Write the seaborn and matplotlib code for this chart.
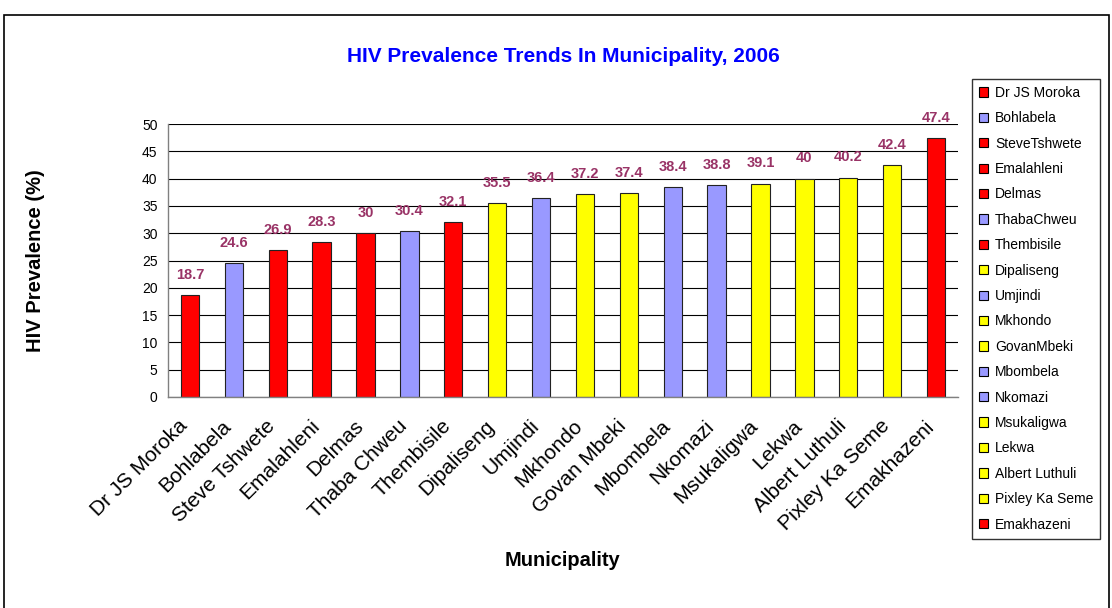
import matplotlib
matplotlib.use('Agg')
import matplotlib.pyplot as plt
import matplotlib.transforms as mtransforms
import seaborn as sns
from matplotlib.patches import Patch, Rectangle

# data
municipalities = ['Dr JS Moroka', 'Bohlabela', 'Steve Tshwete', 'Emalahleni', 'Delmas',
                  'Thaba Chweu', 'Thembisile', 'Dipaliseng', 'Umjindi', 'Mkhondo',
                  'Govan Mbeki', 'Mbombela', 'Nkomazi', 'Msukaligwa', 'Lekwa',
                  'Albert Luthuli', 'Pixley Ka Seme', 'Emakhazeni']
prevalence = [18.7, 24.6, 26.9, 28.3, 30, 30.4, 32.1, 35.5, 36.4, 37.2,
              37.4, 38.4, 38.8, 39.1, 40, 40.2, 42.4, 47.4]
legend_names = ['Dr JS Moroka', 'Bohlabela', 'SteveTshwete', 'Emalahleni', 'Delmas',
                'ThabaChweu', 'Thembisile', 'Dipaliseng', 'Umjindi', 'Mkhondo',
                'GovanMbeki', 'Mbombela', 'Nkomazi', 'Msukaligwa', 'Lekwa',
                'Albert Luthuli', 'Pixley Ka Seme', 'Emakhazeni']
bar_group = ['r', 'b', 'r', 'r', 'r', 'b', 'r', 'y', 'b', 'y',
             'y', 'b', 'b', 'y', 'y', 'y', 'y', 'r']

group_colors = {'r': '#FF0000', 'b': '#9999FF', 'y': '#FFFF00'}
palette = {m: group_colors[g] for m, g in zip(municipalities, bar_group)}

sns.set_style('white')
plt.rcParams['font.family'] = ['Liberation Sans', 'DejaVu Sans']
plt.rcParams['text.color'] = 'black'
plt.rcParams['axes.labelcolor'] = 'black'
plt.rcParams['xtick.color'] = 'black'
plt.rcParams['ytick.color'] = 'black'

fig = plt.figure(figsize=(11.12, 6.08), dpi=100)
ax = fig.add_axes([168 / 1112, 1 - 397 / 608, 790 / 1112, 273 / 608])

sns.barplot(x=municipalities, y=prevalence, hue=municipalities, palette=palette,
            dodge=False, legend=False, width=0.42, edgecolor='#222222',
            linewidth=0.8, saturation=1, ax=ax)

# value labels above bars
for i, v in enumerate(prevalence):
    ax.annotate(f'{v:g}', (i, v), xytext=(0, 14.5), textcoords='offset points',
                ha='center', va='center', color='#993366', fontweight='bold',
                fontsize=10.5)

ax.set_xlim(-0.5, len(municipalities) - 0.5)
ax.set_ylim(0, 50)
ax.set_yticks(range(0, 51, 5))
ax.yaxis.grid(True, color='black', linewidth=0.8)
ax.set_axisbelow(True)

for s in ['top', 'right']:
    ax.spines[s].set_visible(False)
for s in ['left', 'bottom']:
    ax.spines[s].set_color('#808080')
    ax.spines[s].set_linewidth(1.0)

# category separators as tick marks
ax.set_xticks([i - 0.5 for i in range(len(municipalities) + 1)], minor=True)
ax.tick_params(axis='x', which='minor', length=5, color='#808080', direction='out')
ax.tick_params(axis='x', which='major', length=0, pad=14)
ax.tick_params(axis='y', length=4, color='#808080', direction='out', labelsize=10)
ax.set_xticks(range(len(municipalities)))
ax.set_xticklabels(municipalities, rotation=45, ha='right', rotation_mode='anchor',
                   fontsize=15)
shift = mtransforms.ScaledTranslation(-12 / 100, 0, fig.dpi_scale_trans)
for lbl in ax.get_xticklabels():
    lbl.set_transform(lbl.get_transform() + shift)

ax.set_title('HIV Prevalence Trends In Municipality, 2006', color='#0000FF',
             fontweight='bold', fontsize=15, y=1.195)
ax.set_xlabel('Municipality', fontweight='bold', fontsize=14.5)
ax.set_ylabel('HIV Prevalence (%)', fontweight='bold', fontsize=14.5)
ax.xaxis.set_label_coords(0.5, -0.564)
ax.yaxis.set_label_coords(-0.156, 0.5)

handles = [Patch(facecolor=group_colors[g], edgecolor='black', linewidth=0.8)
           for g in bar_group]
leg = fig.legend(handles, legend_names, loc='upper left',
                 bbox_to_anchor=(972 / 1112, 1 - 79 / 608), fontsize=10,
                 frameon=True, fancybox=False, edgecolor='black',
                 handlelength=0.65, handleheight=0.65, handletextpad=0.5,
                 labelspacing=0.82, borderpad=0.5, borderaxespad=0)
leg.get_frame().set_linewidth(1.0)

# outer chart border
fig.patches.append(Rectangle((4 / 1112, -0.02), 1105 / 1112, 1.02 - 15 / 608,
                             transform=fig.transFigure, fill=False,
                             edgecolor='black', linewidth=1.2))

plt.savefig('out.png', dpi=100)
